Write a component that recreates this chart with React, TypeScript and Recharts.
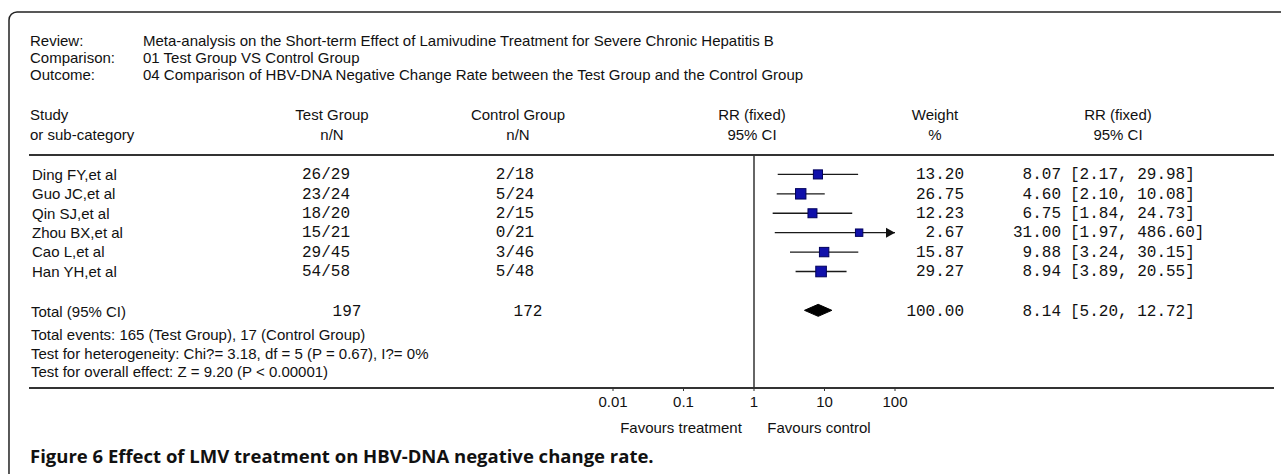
import React from 'react';
import { ComposedChart, Scatter, XAxis, YAxis, ErrorBar, ReferenceLine } from 'recharts';

// forest plot data
const studies = ['Ding FY,et al', 'Guo JC,et al', 'Qin SJ,et al', 'Zhou BX,et al', 'Cao L,et al', 'Han YH,et al'];
const testGroup = ['26/29', '23/24', '18/20', '15/21', '29/45', '54/58'];
const controlGroup = ['2/18', '5/24', '2/15', '0/21', '3/46', '5/48'];
const weights = [13.2, 26.75, 12.23, 2.67, 15.87, 29.27];
const rr = [8.07, 4.6, 6.75, 31.0, 9.88, 8.94];
const rrLow = [2.17, 2.1, 1.84, 1.97, 3.24, 3.89];
const rrHigh = [29.98, 10.08, 24.73, 486.6, 30.15, 20.55];

const totalN = ['197', '172'];
const totalWeight = 100;
const totalRR = [8.14, 5.2, 12.72]; // estimate, lower, upper

const xTicks = [0.01, 0.1, 1, 10, 100];

const headerLines = [
  ['Review:', 'Meta-analysis on the Short-term Effect of Lamivudine Treatment for Severe Chronic Hepatitis B'],
  ['Comparison:', '01 Test Group VS Control Group'],
  ['Outcome:', '04 Comparison of HBV-DNA Negative Change Rate between the Test Group and the Control Group'],
];
const footerLines = [
  'Total events: 165 (Test Group), 17 (Control Group)',
  'Test for heterogeneity: Chi?= 3.18, df = 5 (P = 0.67), I?= 0%',
  'Test for overall effect: Z = 9.20 (P < 0.00001)',
];
const caption = 'Figure 6 Effect of LMV treatment on HBV-DNA negative change rate.';

const AXIS_MIN = 0.01;
const AXIS_MAX = 100;
const TOTAL_ROW = studies.length + 2;
const Y_MAX = 12;

const W = 1281;
const H = 474;
const PLOT_LEFT = 613;
const PLOT_RIGHT = 895;
const PLOT_TOP = 155;
const PLOT_BOTTOM = 388;
const XAXIS_H = 30;

const SANS = '"Liberation Sans", Arial, sans-serif';
const MONO = '"Liberation Mono", "Courier New", monospace';

const fmt2 = (v: number) => v.toFixed(2);

const studyData = studies.map((name, i) => ({
  name,
  x: rr[i],
  y: i + 1,
  weight: weights[i],
  ci: [rr[i] - rrLow[i], Math.min(rrHigh[i], AXIS_MAX) - rr[i]],
}));
const arrowData = studyData.filter((_, i) => rrHigh[i] > AXIS_MAX).map((d) => ({ x: AXIS_MAX, y: d.y }));
const diamondData = [
  { x: totalRR[1], y: TOTAL_ROW },
  { x: totalRR[0], y: TOTAL_ROW },
  { x: totalRR[2], y: TOTAL_ROW },
];

const rowY = (v: number) => PLOT_TOP + (v * (PLOT_BOTTOM - PLOT_TOP)) / Y_MAX;

const Txt = ({ x, cy, anchor = 'start', mono = false, size, children }: any) => {
  const fs = size || (mono ? 16 : 15);
  return (
    <text
      x={x}
      y={cy + fs * (mono ? 0.3 : 0.36)}
      textAnchor={anchor}
      fontFamily={mono ? MONO : SANS}
      fontSize={fs}
      fill="#111"
      style={{ whiteSpace: 'pre' }}
    >
      {children}
    </text>
  );
};

const Square = (props: any) => {
  const { cx, cy, payload } = props;
  const s = 6 + 0.85 * Math.sqrt(payload.weight);
  return <rect x={cx - s / 2} y={cy - s / 2} width={s} height={s} fill="#1010aa" stroke="#00005c" strokeWidth={1} />;
};

const Arrow = (props: any) => {
  const { cx, cy } = props;
  return <polygon points={`${cx},${cy} ${cx - 9},${cy - 5} ${cx - 9},${cy + 5}`} fill="#111" />;
};

const Diamond = (props: any) => {
  const [lo, est, hi] = props.points;
  return (
    <polygon
      points={`${lo.x},${lo.y} ${est.x},${est.y - 6} ${hi.x},${hi.y} ${est.x},${est.y + 6}`}
      fill="#000"
      stroke="#000"
    />
  );
};

const Empty = () => <g />;

const Table = () => (
  <svg width={W} height={H} style={{ position: 'absolute', left: 0, top: 0 }}>
    <rect x={9} y={12} width={1400} height={600} rx={8} fill="none" stroke="#222" strokeWidth={1.5} />
    {headerLines.map(([label, value], i) => (
      <g key={label}>
        <Txt x={30} cy={41 + i * 17}>{label}</Txt>
        <Txt x={143} cy={41 + i * 17}>{value}</Txt>
      </g>
    ))}
    <Txt x={30} cy={115}>Study</Txt>
    <Txt x={30} cy={135}>or sub-category</Txt>
    <Txt x={332} cy={115} anchor="middle">Test Group</Txt>
    <Txt x={332} cy={135} anchor="middle">n/N</Txt>
    <Txt x={518} cy={115} anchor="middle">Control Group</Txt>
    <Txt x={518} cy={135} anchor="middle">n/N</Txt>
    <Txt x={752} cy={115} anchor="middle">RR (fixed)</Txt>
    <Txt x={752} cy={135} anchor="middle">95% CI</Txt>
    <Txt x={935} cy={115} anchor="middle">Weight</Txt>
    <Txt x={935} cy={135} anchor="middle">%</Txt>
    <Txt x={1118} cy={115} anchor="middle">RR (fixed)</Txt>
    <Txt x={1118} cy={135} anchor="middle">95% CI</Txt>
    <line x1={29} x2={1274} y1={PLOT_TOP} y2={PLOT_TOP} stroke="#333" strokeWidth={2} />

    {studies.map((name, i) => {
      const cy = rowY(i + 1);
      return (
        <g key={name}>
          <Txt x={32} cy={cy}>{name}</Txt>
          <Txt x={326} cy={cy} anchor="middle" mono>{testGroup[i]}</Txt>
          <Txt x={515} cy={cy} anchor="middle" mono>{controlGroup[i]}</Txt>
          <Txt x={964} cy={cy} anchor="end" mono>{fmt2(weights[i])}</Txt>
          <Txt x={1061} cy={cy} anchor="end" mono>{fmt2(rr[i])}</Txt>
          <Txt x={1070} cy={cy} mono>{`[${fmt2(rrLow[i])}, ${fmt2(rrHigh[i])}]`}</Txt>
        </g>
      );
    })}

    <Txt x={31} cy={rowY(TOTAL_ROW) + 1}>Total (95% CI)</Txt>
    <Txt x={347} cy={rowY(TOTAL_ROW) + 1} anchor="middle" mono>{totalN[0]}</Txt>
    <Txt x={528} cy={rowY(TOTAL_ROW) + 1} anchor="middle" mono>{totalN[1]}</Txt>
    <Txt x={964} cy={rowY(TOTAL_ROW) + 1} anchor="end" mono>{fmt2(totalWeight)}</Txt>
    <Txt x={1061} cy={rowY(TOTAL_ROW) + 1} anchor="end" mono>{fmt2(totalRR[0])}</Txt>
    <Txt x={1070} cy={rowY(TOTAL_ROW) + 1} mono>{`[${fmt2(totalRR[1])}, ${fmt2(totalRR[2])}]`}</Txt>
    {footerLines.map((t, i) => (
      <Txt key={t} x={31} cy={335 + i * 18.5}>{t}</Txt>
    ))}

    <line x1={29} x2={1274} y1={PLOT_BOTTOM} y2={PLOT_BOTTOM} stroke="#333" strokeWidth={2} />
    <Txt x={681} cy={428} anchor="middle">Favours treatment</Txt>
    <Txt x={819} cy={428} anchor="middle">Favours control</Txt>

    <text x={30} y={463} fontFamily='"Open Sans", "Noto Sans", sans-serif' fontWeight={700} fontSize={18.5} fill="#111">
      {caption}
    </text>
  </svg>
);

const App = () => (
  <div style={{ position: 'absolute', left: 0, top: 0, width: W, height: H, background: '#fff' }}>
    <Table />
    <div style={{ position: 'absolute', left: 0, top: 0 }}>
      <ComposedChart
        width={W}
        height={H}
        margin={{ top: PLOT_TOP, left: PLOT_LEFT, right: W - PLOT_RIGHT, bottom: H - PLOT_BOTTOM - XAXIS_H }}
      >
        <XAxis
          dataKey="x"
          type="number"
          scale="log"
          domain={[AXIS_MIN, AXIS_MAX]}
          ticks={xTicks}
          allowDataOverflow
          height={XAXIS_H}
          axisLine={false}
          tickLine={{ stroke: '#333' }}
          tickSize={3}
          tickMargin={5}
          tickFormatter={(v: number) => String(v)}
          tick={{ fontSize: 15, fontFamily: SANS, fill: '#111' }}
        />
        <YAxis dataKey="y" type="number" domain={[0, Y_MAX]} reversed hide />
        <ReferenceLine x={1} stroke="#333" strokeWidth={1.5} />
        <Scatter data={studyData} shape={Empty} isAnimationActive={false}>
          <ErrorBar dataKey="ci" direction="x" width={0} stroke="#1a1a1a" strokeWidth={1.4} isAnimationActive={false} />
        </Scatter>
        <Scatter data={arrowData} shape={Arrow} isAnimationActive={false} />
        <Scatter data={studyData} shape={Square} isAnimationActive={false} />
        <Scatter data={diamondData} shape={Empty} line={Diamond} lineType="joint" isAnimationActive={false} />
      </ComposedChart>
    </div>
  </div>
);

export default App;
